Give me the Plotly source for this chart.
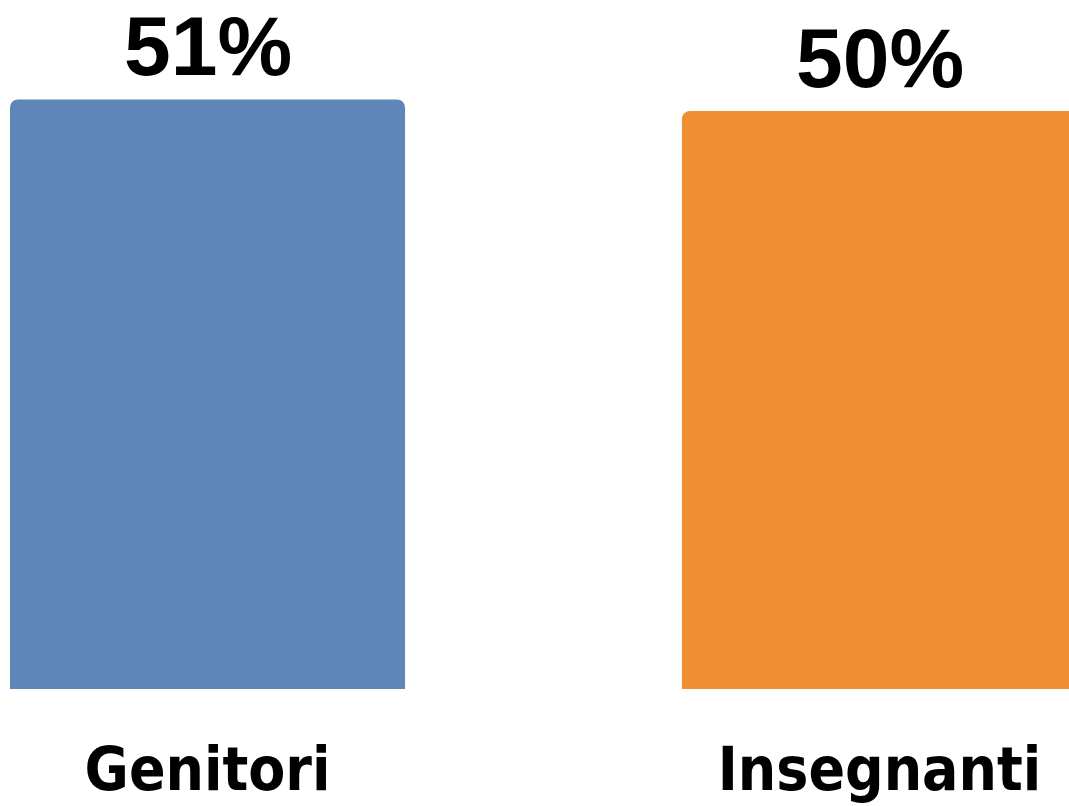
import plotly.graph_objects as go

categories = ["Genitori", "Insegnanti"]
values = [51, 50]
labels = ["51%", "50%"]
colors = ["#5E86B8", "#EF8E33"]

fig = go.Figure(go.Bar(
    x=categories,
    y=values,
    marker=dict(color=colors, line=dict(width=0)),
    width=0.588,
    cliponaxis=False,
    hoverinfo="skip",
))

for cat, val, lab in zip(categories, values, labels):
    fig.add_annotation(
        x=cat, y=val, text=lab, showarrow=False,
        xanchor="center", yanchor="bottom", yshift=4,
        font=dict(family="Liberation Sans, Arial, sans-serif", size=84, color="black", weight="bold"),
    )

fig.update_layout(
    width=1069, height=806,
    margin=dict(l=0, r=0, t=0, b=117, pad=0),
    paper_bgcolor="white", plot_bgcolor="white",
    barcornerradius=8,
    showlegend=False,
    xaxis=dict(
        range=[-0.3088, 1.282],
        showgrid=False, zeroline=False, showline=False, ticks="",
        tickfont=dict(family="Liberation Sans Narrow, DejaVu Sans Condensed, sans-serif", size=60, color="black", weight="bold"),
        ticklabelstandoff=40,
    ),
    yaxis=dict(range=[0, 59.6], visible=False, showgrid=False, zeroline=False),
)

fig.write_html(
    "out.html",
    config={"displayModeBar": False},
    post_script="document.body.style.margin='0';document.body.style.overflow='hidden';",
)
